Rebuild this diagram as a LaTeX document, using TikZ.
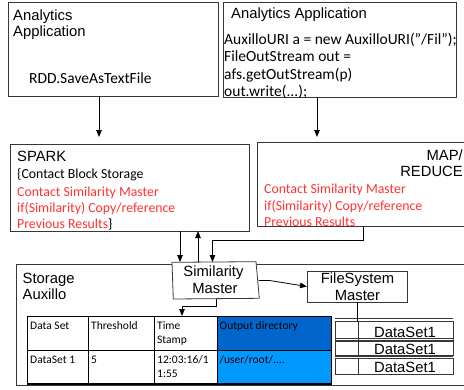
\documentclass[tikz,border=0pt]{standalone}
\usepackage{fontspec}
\setmainfont{Carlito}
\newfontfamily\arialf{Liberation Sans}
\usetikzlibrary{arrows.meta}
\definecolor{lineg}{RGB}{55,55,55}
\definecolor{txtred}{RGB}{255,51,51}
\definecolor{darkblue}{RGB}{0,102,204}
\definecolor{lightblue}{RGB}{0,153,255}
\begin{document}
\begin{tikzpicture}[x=1pt,y=-1pt,
  box/.style={draw=lineg, line width=0.8pt, fill=white, inner sep=0pt, outer sep=0pt, anchor=north west},
  cell/.style={draw=black, line width=1pt, inner sep=0pt, outer sep=0pt, anchor=north west},
  dsrow/.style={draw=lineg, line width=0.7pt, fill=white, inner sep=0pt, outer sep=0pt, anchor=north west, minimum width=118pt},
  head/.style={font=\arialf\fontsize{14.8}{16.5}\selectfont, inner sep=0pt, anchor=base west},
  code/.style={font=\fontsize{15.5}{17}\selectfont, inner sep=0pt, anchor=base west},
  body/.style={font=\fontsize{13.8}{17}\selectfont, inner sep=0pt, anchor=base west},
  redt/.style={body, text=txtred},
  celltxt/.style={font=\fontsize{11.5}{13.5}\selectfont, inner sep=0pt, anchor=base west},
  arr/.style={draw=black, line width=0.8pt, -{Triangle[length=7pt,width=5.5pt]}},
  plain/.style={draw=black, line width=0.8pt}
]
\useasboundingbox (0,0) rectangle (464,389);
\begin{scope}
\clip (0,0) rectangle (464,389);

% top boxes
\node[box, minimum width=210pt, minimum height=94pt] (app1) at (8,2) {};
\node[head] (app1t1) at (13,20) {Analytics};
\node[head] (app1t2) at (13,36) {Application};
\node[code] (rdd) at (29,83) {RDD.SaveAsTextFile};

\node[box, minimum width=233pt, minimum height=95pt] (app2) at (223,2) {};
\node[head] (app2t) at (231,18) {Analytics Application};
\node[code] (c1) at (224,44) {AuxilloURI a = new AuxilloURI("/Fil");};
\node[code] (c2) at (224,61.5) {FileOutStream out =};
\node[code] (c3) at (224,79) {afs.getOutStream(p)};
\node[code] (c4) at (224,96.5) {out.write(...);};

% middle boxes
\node[box, minimum width=239pt, minimum height=87pt] (spark) at (10,144) {};
\node[box, minimum width=230pt, minimum height=84pt] (mapred) at (257,142) {};

\node[head] (sparkt) at (17,161) {SPARK};
\node[body] (s1) at (17,178.5) {\{Contact Block Storage};
\node[redt] (s2) at (17,196) {Contact Similarity Master};
\node[redt] (s3) at (17,212.5) {if(Similarity) Copy/reference};
\node[body] (s4) at (17,228.5) {\textcolor{txtred}{Previous Results}\}};

\node[head, anchor=base east] (mapt1) at (463,160) {MAP/};
\node[head, anchor=base east] (mapt2) at (463,176.7) {REDUCE};
\node[redt] (m1) at (264,193.3) {Contact Similarity Master};
\node[redt] (m2) at (264,210) {if(Similarity) Copy/reference};
\node[redt] (m3) at (264,226.5) {Previous Results};

% arrows top
\draw[arr, shorten >=7pt] ([xshift=91pt]app1.south west) -- ([xshift=89pt]spark.north west);
\draw[arr, shorten >=5pt] ([xshift=94pt]app2.south west) -- ([xshift=60pt]mapred.north west);

% storage box
\node[box, minimum width=470pt, minimum height=121pt] (storage) at (16,264) {};
\node[head] (st1) at (22.5,283) {Storage};
\node[head] (st2) at (22.5,299.5) {Auxillo};

% similarity master
\filldraw[draw=lineg, line width=0.8pt, fill=white] (172,262.3) -- (256,261.7) -- (259.3,298.3) -- (173.3,299) -- cycle;
\node[inner sep=0pt, outer sep=0pt, minimum width=86pt, minimum height=37pt] (sim) at (215.5,280.5) {};
\node[font=\arialf\fontsize{14.8}{16.5}\selectfont, inner sep=0pt, anchor=base] (simt1) at (213.5,276.7) {Similarity};
\node[font=\arialf\fontsize{14.8}{16.5}\selectfont, inner sep=0pt, anchor=base] (simt2) at (215,293.3) {Master};

\draw[arr] ([xshift=170pt]spark.south west) -- ([xshift=-35.5pt]sim.north);
\draw[arr] ([xshift=-17.5pt]sim.north) -- ([xshift=188pt]spark.south west);
\draw[arr] ([xshift=106pt]mapred.south west) -- ++(0,14) -| ([xshift=-3pt]sim.north);

% filesystem master
\node[box, minimum width=100pt, minimum height=31pt] (fs) at (307,271) {};
\node[font=\arialf\fontsize{14.8}{16.5}\selectfont, inner sep=0pt, anchor=base] (fst1) at (357.5,283.3) {FileSystem};
\node[font=\arialf\fontsize{14.8}{16.5}\selectfont, inner sep=0pt, anchor=base] (fst2) at (357.5,300) {Master};
\draw[arr] (sim.east) -- ++(11,0) -- (fs.west);

% table
\node[cell, minimum width=61pt, minimum height=34pt] (t11) at (27,316) {};
\node[cell, minimum width=66pt, minimum height=34pt] (t12) at (88,316) {};
\node[cell, minimum width=63pt, minimum height=34pt] (t13) at (154,316) {};
\node[cell, fill=darkblue, minimum width=114pt, minimum height=34pt] (t14) at (217,316) {};
\node[cell, minimum width=61pt, minimum height=34pt] (t21) at (27,350) {};
\node[cell, minimum width=66pt, minimum height=34pt] (t22) at (88,350) {};
\node[cell, minimum width=63pt, minimum height=34pt] (t23) at (154,350) {};
\node[cell, fill=lightblue, minimum width=114pt, minimum height=34pt] (t24) at (217,350) {};
\draw[line width=1.6pt] (t21.south west) -- (t24.south east);

\node[celltxt] at (30,329) {Data Set};
\node[celltxt] at (91,329) {Threshold};
\node[celltxt] at (157,329) {Time};
\node[celltxt] at (157,343.5) {Stamp};
\node[celltxt] at (219.5,329) {Output directory};
\node[celltxt] at (30,363.3) {DataSet 1};
\node[celltxt] at (91,363.3) {5};
\node[celltxt] at (157,363.3) {12:03:16/1};
\node[celltxt] at (157,377) {1:55};
\node[celltxt] at (219.5,363.3) {/user/root/....};

\draw[arr] ([xshift=1pt]sim.south) -- ++(0,7.7) -| ([xshift=28pt]t13.north west);

% datasets
\node[dsrow, minimum height=18.3pt] (ds1) at (335,321.7) {};
\node[dsrow, minimum height=14pt] (ds2) at (335,341) {};
\node[dsrow, minimum height=16pt] (ds3) at (335,358.5) {};
\foreach \d/\s in {ds1/3.3, ds2/2.5, ds3/2.5}{
  \draw[lineg, line width=0.7pt] ([yshift=\s pt]\d.north west) -- ([yshift=\s pt]\d.north east);
  \draw[lineg, line width=0.7pt] ([xshift=23pt]\d.north west) -- ([xshift=23pt]\d.south west);
}
\node[font=\arialf\fontsize{14.8}{16.5}\selectfont, inner sep=0pt, anchor=base] (dst1) at (405,337.7) {DataSet1};
\node[font=\arialf\fontsize{14.8}{16.5}\selectfont, inner sep=0pt, anchor=base] (dst2) at (405,354.3) {DataSet1};
\node[font=\arialf\fontsize{14.8}{16.5}\selectfont, inner sep=0pt, anchor=base] (dst3) at (405,372.7) {DataSet1};
\draw[plain] ([xshift=0.5pt]fs.south) -- ([xshift=0.5pt]fs.south |- ds1.north);

\end{scope}
\end{tikzpicture}
\end{document}
